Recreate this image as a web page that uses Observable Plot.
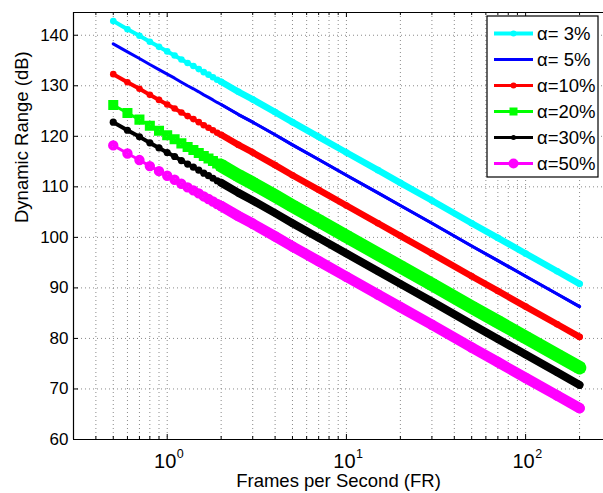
<!DOCTYPE html>
<html><head><meta charset="utf-8">
<script src="https://cdn.jsdelivr.net/npm/d3@7"></script>
<script src="https://cdn.jsdelivr.net/npm/@observablehq/plot@0.6"></script>
<style>body{margin:0;background:#fff}#chart{position:relative;width:603px;height:493px}</style>
</head><body><div id="chart"></div>
<script>
// Frames per second (x values)
const fps = [0.5,0.6,0.7,0.8,0.9,1.0,1.1,1.2,1.3,1.4,1.5,1.6,1.7,1.8,1.9,2.0,2.5,3,4,5,7,10,15,20,30,50,70,100,150,200];
// Dynamic range (dB) per alpha
const dr3  = [142.8,141.2,139.9,138.7,137.7,136.8,136.0,135.2,134.5,133.9,133.3,132.7,132.2,131.7,131.2,130.8,128.8,127.3,124.8,122.8,119.9,116.8,113.3,110.8,107.3,102.8,99.9,96.8,93.3,90.8];
const dr5  = [138.3,136.7,135.4,134.2,133.2,132.3,131.5,130.7,130.0,129.4,128.8,128.2,127.7,127.2,126.7,126.3,124.3,122.8,120.3,118.3,115.4,112.3,108.8,106.3,102.8,98.3,95.4,92.3,88.8,86.3];
const dr10 = [132.3,130.7,129.4,128.2,127.2,126.3,125.5,124.7,124.0,123.4,122.8,122.2,121.7,121.2,120.7,120.3,118.3,116.8,114.3,112.3,109.4,106.3,102.8,100.3,96.8,92.3,89.4,86.3,82.8,80.3];
const dr20 = [126.2,124.6,123.3,122.1,121.1,120.2,119.4,118.6,117.9,117.3,116.7,116.1,115.6,115.1,114.6,114.2,112.2,110.7,108.2,106.2,103.3,100.2,96.7,94.2,90.7,86.2,83.3,80.2,76.7,74.2];
const dr30 = [122.8,121.2,119.9,118.7,117.7,116.8,116.0,115.2,114.5,113.9,113.3,112.7,112.2,111.7,111.2,110.8,108.8,107.3,104.8,102.8,99.9,96.8,93.3,90.8,87.3,82.8,79.9,76.8,73.3,70.8];
const dr50 = [118.2,116.6,115.3,114.1,113.1,112.2,111.4,110.6,109.9,109.3,108.7,108.1,107.6,107.1,106.6,106.2,104.2,102.7,100.2,98.2,95.3,92.2,88.7,86.2,82.7,78.2,75.3,72.2,68.7,66.2];
const seriesNames = ["α= 3%","α= 5%","α=10%","α=20%","α=30%","α=50%"];
const seriesColors = ["#00ffff","#0000ff","#ff0000","#00ff00","#000000","#ff00ff"];
const xMajorTicks = [1,10,100];
const xMajorExp = ["0","1","2"];
const xMinorTicks = [0.4,0.5,0.6,0.7,0.8,0.9,2,3,4,5,6,7,8,9,20,30,40,50,60,70,80,90,200];
const yTicks = [60,70,80,90,100,110,120,130,140];
const xDomain = [0.3, 272];
const yDomain = [60, 144.5];
const xLabel = "Frames per Second (FR)";
const yLabel = "Dynamic Range (dB)";

// styling per series (not data)
const styles = [
  {line: 4, band: 6.5, symbol: "circle", r: 3.3, fill: true, sw: 0},
  {line: 3, band: 3, symbol: null},
  {line: 4, band: 6.5, symbol: "circle", r: 3.3, fill: true, sw: 0},
  {line: 3, band: 13.5, symbol: "square", r: 3.4, fill: false, sw: 4},
  {line: 4, band: 8, symbol: "circle", r: 3.6, fill: true, sw: 0},
  {line: 3, band: 10.5, symbol: "circle", r: 3.2, fill: false, sw: 4}
];

const allDR = [dr3, dr5, dr10, dr20, dr30, dr50];
const rows = allDR.map((arr, k) => fps.map((f, i) => ({fps: f, dr: arr[i], k})));

const W = 603, H = 493, mL = 73, mT = 12, mB = 54, mR = 0;
const innerH = H - mT - mB, innerW = W - mL - mR;
const font = "'Liberation Sans', Arial, Helvetica, sans-serif";
const gridStyle = {stroke: "#8a8a8a", strokeWidth: 1, strokeDasharray: "1,3"};

const marks = [
  Plot.ruleX(xMajorTicks.concat(xMinorTicks), gridStyle),
  Plot.ruleY(yTicks.filter(v => v > yDomain[0]), gridStyle),
  // inward tick marks
  Plot.ruleX(xMajorTicks, {stroke: "#000", insetTop: innerH - 5}),
  Plot.ruleX(xMinorTicks, {stroke: "#000", insetTop: innerH - 3}),
  Plot.ruleX(xMajorTicks, {stroke: "#000", insetBottom: innerH - 5}),
  Plot.ruleX(xMinorTicks, {stroke: "#000", insetBottom: innerH - 3}),
  Plot.ruleY(yTicks, {stroke: "#000", insetRight: innerW - 5}),
  // frame
  Plot.ruleX([xDomain[0]], {stroke: "#000", strokeWidth: 1.2}),
  Plot.ruleY(yDomain, {stroke: "#000", strokeWidth: 1.2})
];

rows.forEach((data, k) => {
  const s = styles[k], c = seriesColors[k];
  marks.push(Plot.line(data.filter(d => d.fps >= 2), {x: "fps", y: "dr", stroke: c, strokeWidth: s.band, strokeLinecap: "round"}));
  marks.push(Plot.line(data, {x: "fps", y: "dr", stroke: c, strokeWidth: s.line, strokeLinecap: "round"}));
  if (s.symbol) {
    marks.push(Plot.dot(data, {x: "fps", y: "dr", symbol: s.symbol, r: s.r,
      fill: s.fill ? c : "none", stroke: c, strokeWidth: s.fill ? 0 : s.sw}));
  }
});

// x tick labels with superscripts
marks.push(Plot.text(xMajorTicks, {x: d => d, frameAnchor: "bottom", dy: 22, dx: -2, text: () => "10", fontSize: 20, lineAnchor: "middle"}));
marks.push(Plot.text(xMajorTicks, {x: d => d, frameAnchor: "bottom", dy: 14, dx: 13, text: (d, i) => xMajorExp[i], fontSize: 12.5, lineAnchor: "middle"}));
marks.push(Plot.text([xLabel], {frameAnchor: "bottom", dy: 42, text: d => d, fontSize: 18.5, lineAnchor: "middle"}));
marks.push(Plot.text([yLabel], {frameAnchor: "left", dx: -51, dy: -3, rotate: -90, text: d => d, fontSize: 18.5, lineAnchor: "middle"}));

const plot = Plot.plot({
  width: W, height: H,
  marginLeft: mL, marginRight: mR, marginTop: mT, marginBottom: mB,
  style: {fontFamily: font, fontSize: "17px", background: "#fff", color: "#000", overflow: "visible"},
  x: {type: "log", domain: xDomain, axis: null},
  y: {domain: yDomain, ticks: yTicks, tickSize: 0, tickPadding: 5, label: null, tickFormat: d => String(d)},
  marks
});
document.getElementById("chart").appendChild(plot);

// legend (inside the axes, top-right)
const svg = d3.select(plot);
const lg = svg.append("g").attr("font-family", font).attr("text-anchor", "start");
lg.append("rect").attr("x", 487).attr("y", 16).attr("width", 111).attr("height", 161)
  .attr("fill", "#fff").attr("stroke", "#000").attr("stroke-width", 1.2);
seriesNames.forEach((name, k) => {
  const cy = 33.5 + k * 26, c = seriesColors[k], s = styles[k];
  lg.append("line").attr("x1", 494).attr("x2", 533).attr("y1", cy).attr("y2", cy)
    .attr("stroke", c).attr("stroke-width", k === 0 ? 4 : 3);
  if (k === 0 || k === 2) lg.append("circle").attr("cx", 513.5).attr("cy", cy).attr("r", 3).attr("fill", c);
  if (k === 3) lg.append("rect").attr("x", 509.5).attr("y", cy - 4).attr("width", 8).attr("height", 8).attr("fill", c);
  if (k === 4) lg.append("circle").attr("cx", 513.5).attr("cy", cy).attr("r", 2.5).attr("fill", c);
  if (k === 5) lg.append("circle").attr("cx", 513.5).attr("cy", cy).attr("r", 5).attr("fill", c);
  lg.append("text").attr("x", 537).attr("y", cy + 6.5).attr("font-size", 18.5).attr("text-anchor", "start").attr("fill", "#000").text(name);
});
</script></body></html>
